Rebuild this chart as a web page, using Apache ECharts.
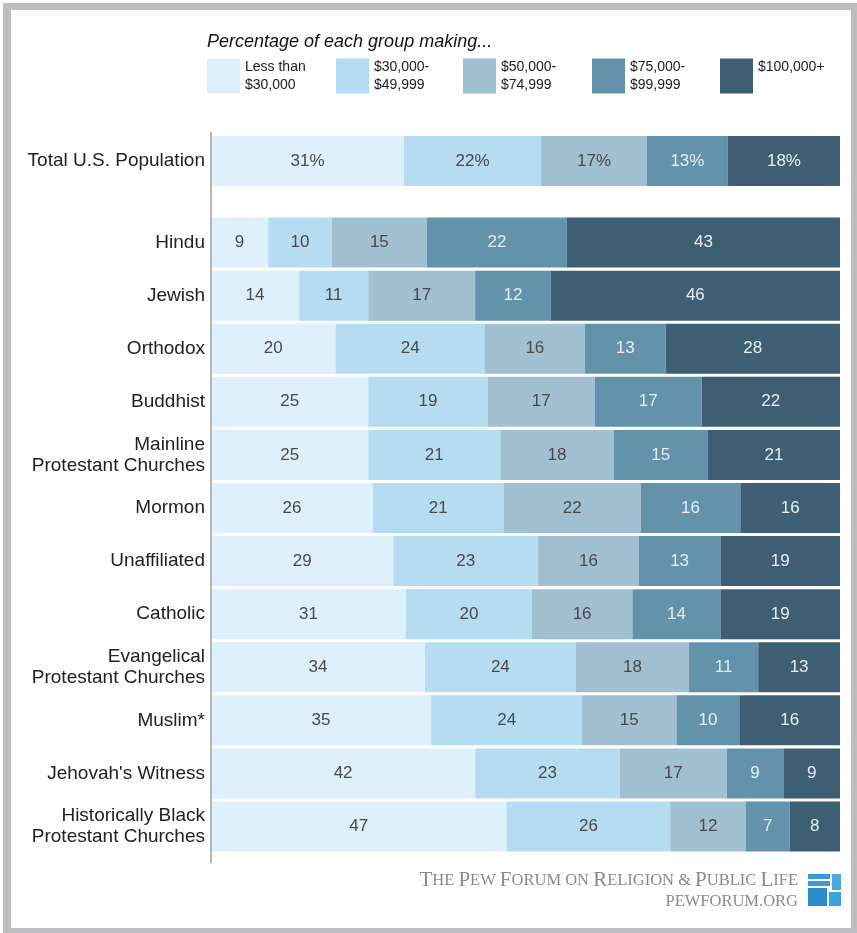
<!DOCTYPE html>
<html>
<head>
<meta charset="utf-8">
<script src="https://cdn.jsdelivr.net/npm/echarts@6/dist/echarts.min.js"></script>
<style>html,body{margin:0;padding:0;background:#fff}#c{width:857px;height:933px}</style>
</head>
<body>
<div id="c"></div>
<script>
const incomeBrackets = ['Less than\n$30,000', '$30,000-\n$49,999', '$50,000-\n$74,999', '$75,000-\n$99,999', '$100,000+'];
const totalCategory = ['Total U.S. Population'];
const totalValues = [31, 22, 17, 13, 18];
const categories = ['Hindu', 'Jewish', 'Orthodox', 'Buddhist', 'Mainline\nProtestant Churches', 'Mormon',
  'Unaffiliated', 'Catholic', 'Evangelical\nProtestant Churches', 'Muslim*', "Jehovah's Witness",
  'Historically Black\nProtestant Churches'];
const under30k  = [9, 14, 20, 25, 25, 26, 29, 31, 34, 35, 42, 47];
const k30to50   = [10, 11, 24, 19, 21, 21, 23, 20, 24, 24, 23, 26];
const k50to75   = [15, 17, 16, 17, 18, 22, 16, 16, 18, 15, 17, 12];
const k75to100  = [22, 12, 13, 17, 15, 16, 13, 14, 11, 10, 9, 7];
const k100plus  = [43, 46, 28, 22, 21, 16, 19, 19, 13, 16, 9, 8];

const colors = ['#ddf0fb', '#b6dcf1', '#a1c1d3', '#6393ab', '#3e5f73'];
const labelColors = ['#4a4a4a', '#4a4a4a', '#4a4a4a', '#e6edf1', '#e6edf1'];
const groupSeries = [under30k, k30to50, k50to75, k75to100, k100plus];

const rowSums = categories.map((_, i) => groupSeries.reduce((s, arr) => s + arr[i], 0));
const totalSum = totalValues.reduce((a, b) => a + b, 0);

const chart = echarts.init(document.getElementById('c'), null, {renderer: 'canvas'});
const series = [];
incomeBrackets.forEach((name, k) => {
  series.push({
    name: name, type: 'bar', stack: 'total', xAxisIndex: 0, yAxisIndex: 0, barWidth: 50,
    itemStyle: {color: colors[k]},
    label: {show: true, position: 'inside', fontSize: 17, fontFamily: 'Liberation Sans', color: labelColors[k],
      formatter: p => p.data.raw + '%'},
    data: [{value: totalValues[k] / totalSum * 100, raw: totalValues[k]}]
  });
  series.push({
    name: name, type: 'bar', stack: 'groups', xAxisIndex: 1, yAxisIndex: 1, barWidth: 50,
    itemStyle: {color: colors[k]},
    label: {show: true, position: 'inside', fontSize: 17, fontFamily: 'Liberation Sans', color: labelColors[k],
      formatter: p => String(p.data.raw)},
    data: groupSeries[k].map((v, i) => ({value: v / rowSums[i] * 100, raw: v}))
  });
});

const legendLefts = [207, 336, 463, 592, 720];
const legends = incomeBrackets.map((name, k) => ({
  data: [name], left: legendLefts[k], top: 58, orient: 'horizontal', padding: 0,
  itemWidth: 33, itemHeight: 35, icon: 'rect', itemGap: 0, selectedMode: false,
  formatter: n => n === '$100,000+' ? n + '\n ' : n,
  textStyle: {fontSize: 14, lineHeight: 18, color: '#222', fontFamily: 'Liberation Sans'}
}));

const catAxisLabel = {fontSize: 19, lineHeight: 21, color: '#222', margin: 6, fontFamily: 'Liberation Sans'};

chart.setOption({
  animation: false,
  backgroundColor: '#fff',
  title: {text: 'Percentage of each group making...', left: 207, top: 33, padding: 0,
    textStyle: {fontSize: 18, fontStyle: 'italic', fontWeight: 'normal', color: '#111', fontFamily: 'Liberation Sans'}},
  legend: legends,
  grid: [
    {left: 211, right: 17, top: 136, height: 50},
    {left: 211, right: 17, top: 216, height: 637}
  ],
  xAxis: [
    {type: 'value', gridIndex: 0, min: 0, max: 100, show: false},
    {type: 'value', gridIndex: 1, min: 0, max: 100, show: false}
  ],
  yAxis: [
    {type: 'category', gridIndex: 0, data: totalCategory, axisLine: {show: false}, axisTick: {show: false}, axisLabel: catAxisLabel},
    {type: 'category', gridIndex: 1, data: categories, inverse: true, axisLine: {show: false}, axisTick: {show: false}, axisLabel: catAxisLabel}
  ],
  series: series,
  graphic: [
    {type: 'rect', z: -10, silent: true, shape: {x: 3, y: 3, width: 854, height: 930}, style: {fill: '#bdbec0'}},
    {type: 'rect', z: -9, silent: true, shape: {x: 11, y: 10, width: 840, height: 918}, style: {fill: '#ffffff'}},
    {type: 'line', z: 10, silent: true, shape: {x1: 211, y1: 132, x2: 211, y2: 863}, style: {stroke: '#b5b5b5', lineWidth: 2}},
    {type: 'text', right: 59, top: 870, silent: true,
      style: {
        text: '{b|T}{s|HE }{b|P}{s|EW }{b|F}{s|ORUM ON }{b|R}{s|ELIGION & }{b|P}{s|UBLIC }{b|L}{s|IFE}',
        rich: {
          b: {fontSize: 21, fontFamily: 'Liberation Serif', fill: '#8a8a8a'},
          s: {fontSize: 16.5, fontFamily: 'Liberation Serif', fill: '#8a8a8a'}
        }
      }},
    {type: 'text', right: 59, top: 893, silent: true,
      style: {text: 'PEWFORUM.ORG', fontSize: 16.5, fontFamily: 'Liberation Serif', fill: '#8a8a8a'}},
    {type: 'rect', silent: true, shape: {x: 808, y: 874, width: 22, height: 5}, style: {fill: '#3a9ad6'}},
    {type: 'rect', silent: true, shape: {x: 808, y: 881, width: 22, height: 5}, style: {fill: '#3a9ad6'}},
    {type: 'rect', silent: true, shape: {x: 832, y: 874, width: 9, height: 16}, style: {fill: '#4aa8de'}},
    {type: 'rect', silent: true, shape: {x: 808, y: 888, width: 19, height: 18}, style: {fill: '#2a8ccc'}},
    {type: 'rect', silent: true, shape: {x: 829, y: 892, width: 12, height: 14}, style: {fill: '#3aa3dc'}}
  ]
});
</script>
</body>
</html>
